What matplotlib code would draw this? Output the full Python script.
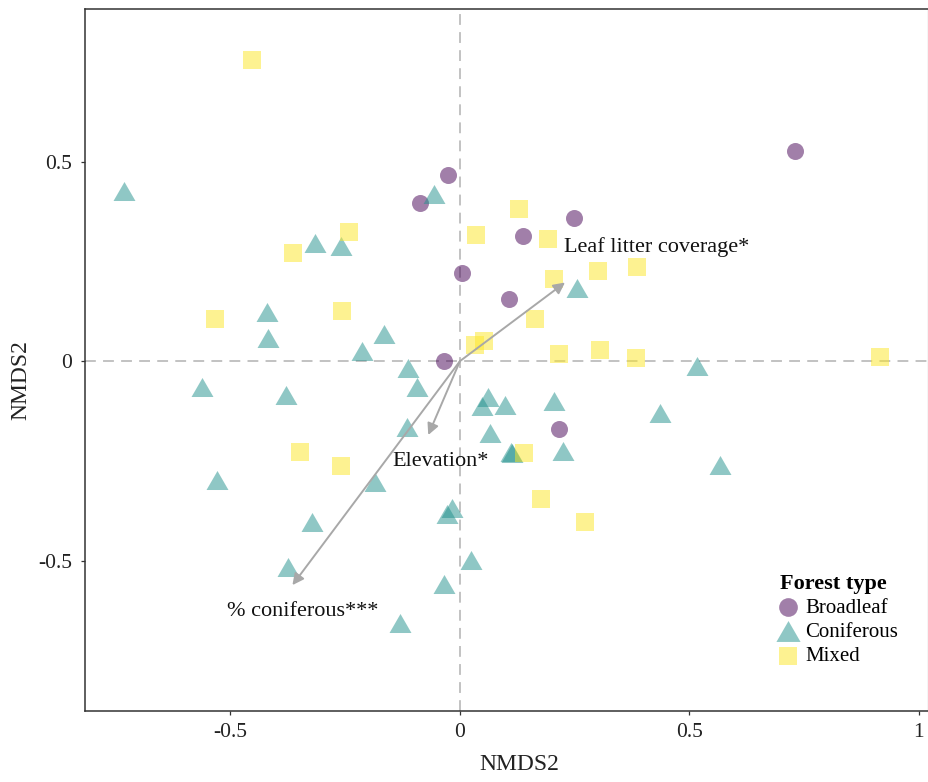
import numpy as np
import matplotlib
matplotlib.use("Agg")
import matplotlib.pyplot as plt
from matplotlib.path import Path

plt.rcParams['font.family'] = ['Liberation Serif', 'DejaVu Serif']

# site scores
broad_x = [-0.027, -0.086, 0.005, -0.034, 0.730, 0.248, 0.137, 0.107, 0.216]
broad_y = [0.466, 0.395, 0.221, 0.000, 0.527, 0.358, 0.314, 0.155, -0.169]

conif_x = [-0.733, -0.056, -0.315, -0.259, -0.420, -0.418, -0.166, -0.214, -0.114,
           -0.563, -0.380, -0.094, -0.115, -0.530, -0.184, -0.018, -0.029, -0.322,
           0.025, -0.375, -0.034, -0.130, 0.517, 0.062, 0.049, 0.098, 0.205,
           0.436, 0.066, 0.113, 0.111, 0.225, 0.566, 0.256]
conif_y = [0.427, 0.419, 0.297, 0.288, 0.122, 0.057, 0.067, 0.025, -0.018,
           -0.064, -0.084, -0.064, -0.165, -0.298, -0.302, -0.369, -0.383, -0.403,
           -0.499, -0.515, -0.557, -0.657, -0.011, -0.091, -0.112, -0.110, -0.099,
           -0.131, -0.180, -0.230, -0.228, -0.226, -0.261, 0.184]

mixed_x = [-0.452, -0.241, -0.363, 0.035, -0.534, -0.257, 0.033, 0.052, 0.128,
           0.193, 0.206, 0.301, 0.386, 0.164, 0.215, 0.305, 0.383, 0.916,
           -0.349, -0.259, 0.139, 0.177, 0.272]
mixed_y = [0.754, 0.323, 0.270, 0.315, 0.105, 0.125, 0.040, 0.050, 0.380,
           0.306, 0.206, 0.226, 0.236, 0.106, 0.018, 0.029, 0.007, 0.011,
           -0.227, -0.263, -0.230, -0.346, -0.404]

# fitted environmental vectors
vec_names = ['Leaf litter coverage*', 'Elevation*', '% coniferous***']
vec_x = [0.229, -0.069, -0.365]
vec_y = [0.197, -0.185, -0.561]
lab_x = [0.227, -0.147, -0.507]
lab_y = [0.286, -0.252, -0.628]

W, H = 929, 782
fig = plt.figure(figsize=(W / 100, H / 100), dpi=100)
ax = fig.add_axes([85 / W, (H - 710.5) / H, (928 - 85) / W, (710.5 - 9) / H])

cmap = plt.get_cmap('viridis')
c_broad, c_conif, c_mixed = cmap(0.0), cmap(0.5), cmap(1.0)

tri = Path([(-1, -0.866), (1, -0.866), (0, 0.866), (-1, -0.866)],
           [Path.MOVETO, Path.LINETO, Path.LINETO, Path.CLOSEPOLY])

ax.axhline(0, color='#bdbdbd', lw=1.3, ls=(0, (6, 4)), zorder=1)
ax.axvline(0, color='#bdbdbd', lw=1.3, ls=(0, (6, 4)), zorder=1)

ax.scatter(broad_x, broad_y, s=150, marker='o', color=c_broad, alpha=0.5,
           linewidths=0, label='Broadleaf', zorder=3)
ax.scatter(conif_x, conif_y, s=250, marker=tri, color=c_conif, alpha=0.5,
           linewidths=0, label='Coniferous', zorder=3)
ax.scatter(mixed_x, mixed_y, s=150, marker='s', color=c_mixed, alpha=0.5,
           linewidths=0, label='Mixed', zorder=3)

for name, vx, vy, tx, ty in zip(vec_names, vec_x, vec_y, lab_x, lab_y):
    ax.annotate('', xy=(vx, vy), xytext=(0, 0),
                arrowprops=dict(arrowstyle='-|>', color='#a8a8a8', lw=1.4,
                                mutation_scale=17, shrinkA=0, shrinkB=0),
                zorder=4)
    ax.text(tx, ty, name, fontsize=16, ha='left', va='center', color='#111111', zorder=5)

ax.set_xlim(-0.817, 1.02)
ax.set_ylim(-0.875, 0.882)
ax.set_xticks([-0.5, 0, 0.5, 1])
ax.set_xticklabels(['-0.5', '0', '0.5', '1'])
ax.set_yticks([-0.5, 0, 0.5])
ax.set_yticklabels(['-0.5', '0', '0.5'])
ax.tick_params(direction='out', length=3, width=0.9, color='#333333',
               labelsize=15.5, labelcolor='#222222', pad=6)

for side in ['left', 'bottom', 'top']:
    ax.spines[side].set_color('#333333')
    ax.spines[side].set_linewidth(1.1)
ax.spines['right'].set_color('#d0d0d0')
ax.spines['right'].set_linewidth(1.0)

ax.set_xlabel('NMDS2', fontsize=17, color='#222222', va='center')
ax.set_ylabel('NMDS2', fontsize=17, color='#222222', va='center')
ax.xaxis.set_label_coords((519 - 85) / (928 - 85), -(765 - 710.5) / (710.5 - 9))
ax.yaxis.set_label_coords(-(85 - 21) / (928 - 85), (710.5 - 380) / (710.5 - 9))

leg = ax.legend(title='Forest type', loc='upper left',
                bbox_to_anchor=((765 - 85) / (928 - 85), (710.5 - 559) / (710.5 - 9)),
                frameon=False, fontsize=15, title_fontproperties={'weight': 'bold', 'size': 16},
                handletextpad=0.45, labelspacing=0.22, borderpad=0.2,
                alignment='left', scatterpoints=1, handlelength=0.8, markerscale=1.1)
for h in leg.legend_handles:
    h.set_alpha(0.5)

fig.savefig('out.png', dpi=100)
